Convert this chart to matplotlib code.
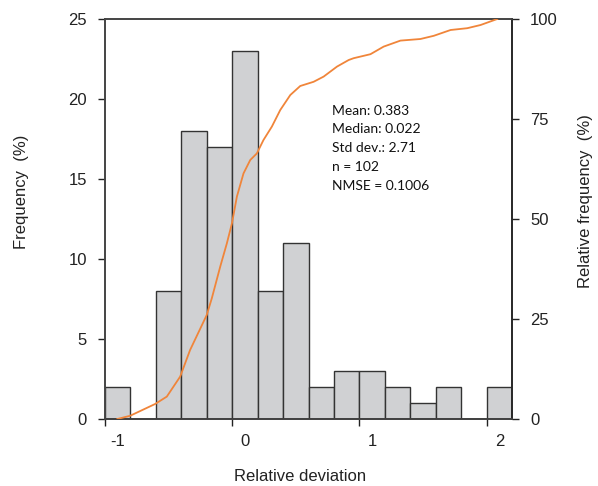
import numpy as np
import matplotlib.pyplot as plt
import matplotlib.transforms as mtransforms

# histogram of relative deviation (bin width 0.2)
bin_edges = [-1.0, -0.8, -0.6, -0.4, -0.2, 0.0, 0.2, 0.4, 0.6, 0.8,
             1.0, 1.2, 1.4, 1.6, 1.8, 2.0, 2.2]
counts = [2, 0, 8, 18, 17, 23, 8, 11, 2, 3, 3, 2, 1, 2, 0, 2]

# cumulative relative frequency curve
cum_x = [-0.903, -0.803, -0.606, -0.514, -0.409, -0.331, -0.2, -0.16, -0.094,
         -0.042, -0.002, 0.037, 0.089, 0.142, 0.194, 0.246, 0.312, 0.378, 0.457,
         0.535, 0.640, 0.719, 0.824, 0.916, 0.955, 1.087, 1.191, 1.323, 1.48,
         1.585, 1.717, 1.848, 1.953, 2.084]
cum_y = [0, 0.8, 3.75, 5.6, 10.6, 17.25, 26, 30.2, 38.1,
         43.9, 48.9, 55.6, 61.4, 64.75, 66.4, 69.75, 73.1, 77.25, 81,
         83.25, 84.3, 85.6, 88.1, 89.75, 90.2, 91.2, 93.1, 94.6, 95.0,
         95.8, 97.25, 97.7, 98.5, 100]

stats_lines = ["Mean: 0.383", "Median: 0.022", "Std dev.: 2.71", "n = 102", "NMSE = 0.1006"]

plt.rcParams['font.family'] = ['Liberation Sans', 'DejaVu Sans']
plt.rcParams['axes.unicode_minus'] = False

fig = plt.figure(figsize=(5.98, 4.86), dpi=100)
ax = fig.add_axes([105 / 598, 67 / 486, 407 / 598, 400 / 486])

widths = np.diff(bin_edges)
ax.bar(bin_edges[:-1], counts, width=widths, align='edge',
       color='#d0d1d3', edgecolor='#333333', linewidth=1.0, zorder=2)

ax.set_xlim(-1.0, 2.2)
ax.set_ylim(0, 25)
ax.set_xticks([-1, 0, 1, 2])
ax.set_yticks([0, 5, 10, 15, 20, 25])
ax.tick_params(axis='x', direction='out', length=5, width=1, labelsize=12, pad=6,
               colors='#222222')
ax.tick_params(axis='y', direction='out', length=5, width=1, labelsize=12, pad=8,
               colors='#222222')
# x tick labels sit a little right of their ticks in the original
shift = mtransforms.ScaledTranslation(13 / 100, 0, fig.dpi_scale_trans)
for lbl in ax.get_xticklabels():
    lbl.set_transform(lbl.get_transform() + shift)
for s in ax.spines.values():
    s.set_linewidth(1.2)
    s.set_color('#444444')
ax.spines['bottom'].set_color('#222222')

ax2 = ax.twinx()
ax2.plot(cum_x, cum_y, color='#f0853a', linewidth=1.3, zorder=3)
ax2.set_ylim(0, 100)
ax2.set_yticks([0, 25, 50, 75, 100])
ax2.tick_params(axis='y', direction='out', length=5, width=1, labelsize=12, pad=8,
                colors='#222222')
for s in ax2.spines.values():
    s.set_linewidth(1.2)
    s.set_color('#444444')
ax2.spines['right'].set_color('#222222')

fig.text(300 / 598, 1 - 476 / 486, 'Relative deviation', fontsize=12,
         ha='center', va='center', color='#222222')
fig.text(21.5 / 598, 1 - 192 / 486, 'Frequency  (%)', fontsize=12, rotation=90,
         ha='center', va='center', color='#222222')
fig.text(585.5 / 598, 1 - 201 / 486, 'Relative frequency  (%)', fontsize=12, rotation=90,
         ha='center', va='center', color='#222222')

ax.text(0.785, 19.65, "\n".join(stats_lines), fontsize=10, family='Lato',
        va='top', ha='left', linespacing=1.68, color='#111111')

fig.savefig('out.png', dpi=100)
